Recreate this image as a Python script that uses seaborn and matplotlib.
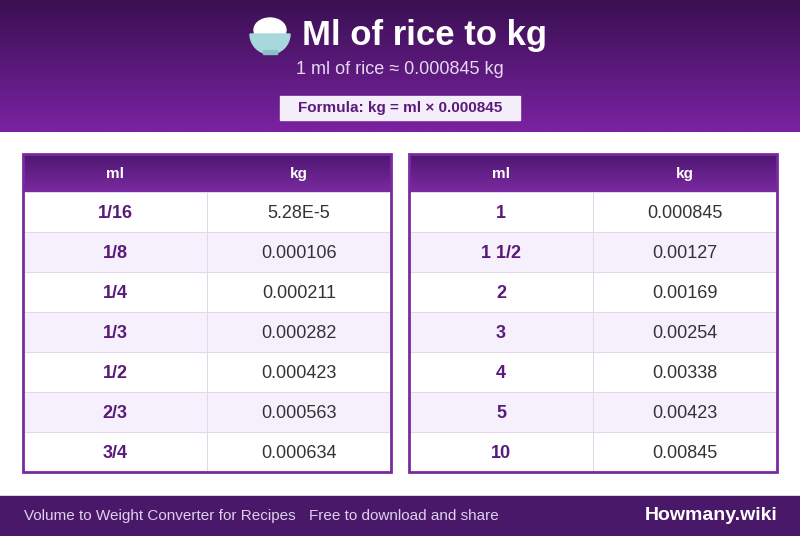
import numpy as np
import matplotlib
matplotlib.use("Agg")
import matplotlib.pyplot as plt
import seaborn as sns
from matplotlib.colors import ListedColormap, LinearSegmentedColormap
from matplotlib.patches import Rectangle, Ellipse, Wedge

ml_left = ["1/16", "1/8", "1/4", "1/3", "1/2", "2/3", "3/4"]
kg_left = ["5.28E-5", "0.000106", "0.000211", "0.000282", "0.000423", "0.000563", "0.000634"]
ml_right = ["1", "1 1/2", "2", "3", "4", "5", "10"]
kg_right = ["0.000845", "0.00127", "0.00169", "0.00254", "0.00338", "0.00423", "0.00845"]

title = "Ml of rice to kg"
subtitle = "1 ml of rice \u2248 0.000845 kg"
formula = "Formula: kg = ml \u00d7 0.000845"

sns.set_theme(style="white")
plt.rcParams["font.family"] = ["Liberation Sans", "DejaVu Sans"]

W, H = 800, 536
fig = plt.figure(figsize=(8, 5.36), dpi=100)
ax = fig.add_axes([0, 0, 1, 1])
ax.set_xlim(0, W)
ax.set_ylim(H, 0)
ax.axis("off")

# header gradient
grad = LinearSegmentedColormap.from_list("g", ["#3a1052", "#7a22a2"])
ax.imshow(np.linspace(0, 1, 100).reshape(-1, 1), cmap=grad, aspect="auto",
          extent=[0, W, 132, 0], zorder=0)
# simple rice bowl icon
ax.add_patch(Ellipse((270, 30), 32, 24, color="white", zorder=2))
ax.add_patch(Wedge((270, 34), 20, 0, 180, color="#a8d8dc", zorder=3))
ax.add_patch(Rectangle((263, 50), 14, 4, color="#8cc0c6", zorder=3))
ax.text(302, 35, title, color="white", fontsize=25, fontweight="bold", ha="left", va="center")
ax.text(400, 70, subtitle, color="#e6d8f0", fontsize=13, ha="center", va="center")
ax.add_patch(Rectangle((280, 96), 240, 24, color="#f3eefa", zorder=2))
ax.text(400, 108, formula, color="#5a1a7a", fontsize=11, fontweight="bold",
        ha="center", va="center", zorder=3)

# footer
ax.add_patch(Rectangle((0, 496), W, 40, color="#4a1868"))
ax.text(24, 516, "Volume to Weight Converter for Recipes", color="#e0d0ee", fontsize=11, va="center")
ax.text(309, 516, "Free to download and share", color="#e0d0ee", fontsize=11, va="center")
ax.text(777, 516, "Howmany.wiki", color="white", fontsize=14, fontweight="bold", ha="right", va="center")

stripe_cmap = ListedColormap(["white", "#f5f0fc"])
stripes = np.array([[i % 2, i % 2] for i in range(7)])
hdr = LinearSegmentedColormap.from_list("h", ["#4e1670", "#7a2aa0"])

for x0, mls, kgs in [(23, ml_left, kg_left), (409, ml_right, kg_right)]:
    w = 368
    ax.imshow(np.linspace(0, 1, 50).reshape(-1, 1), cmap=hdr, aspect="auto",
              extent=[x0, x0 + w, 192, 154], zorder=1)
    ax.text(x0 + w / 4, 174, "ml", color="white", fontsize=11, fontweight="bold", ha="center", va="center")
    ax.text(x0 + 3 * w / 4, 174, "kg", color="white", fontsize=11, fontweight="bold", ha="center", va="center")
    tax = fig.add_axes([x0 / W, (H - 472) / H, w / W, 280 / H])
    sns.heatmap(stripes, cmap=stripe_cmap, cbar=False, ax=tax, linewidths=0.5,
                linecolor="#e2d8ec", xticklabels=False, yticklabels=False, vmin=0, vmax=1)
    for i in range(7):
        tax.text(0.5, i + 0.5, mls[i], color="#5a1a7a", fontsize=13, fontweight="bold",
                 ha="center", va="center_baseline")
        tax.text(1.5, i + 0.5, kgs[i], color="#333333", fontsize=13, ha="center", va="center_baseline")
    ax.add_patch(Rectangle((x0, 154), w, 318, fill=False, ec="#7a2aa0", lw=2, zorder=5))

ax.set_zorder(2)
ax.patch.set_alpha(0)
fig.savefig("out.png", dpi=100)
